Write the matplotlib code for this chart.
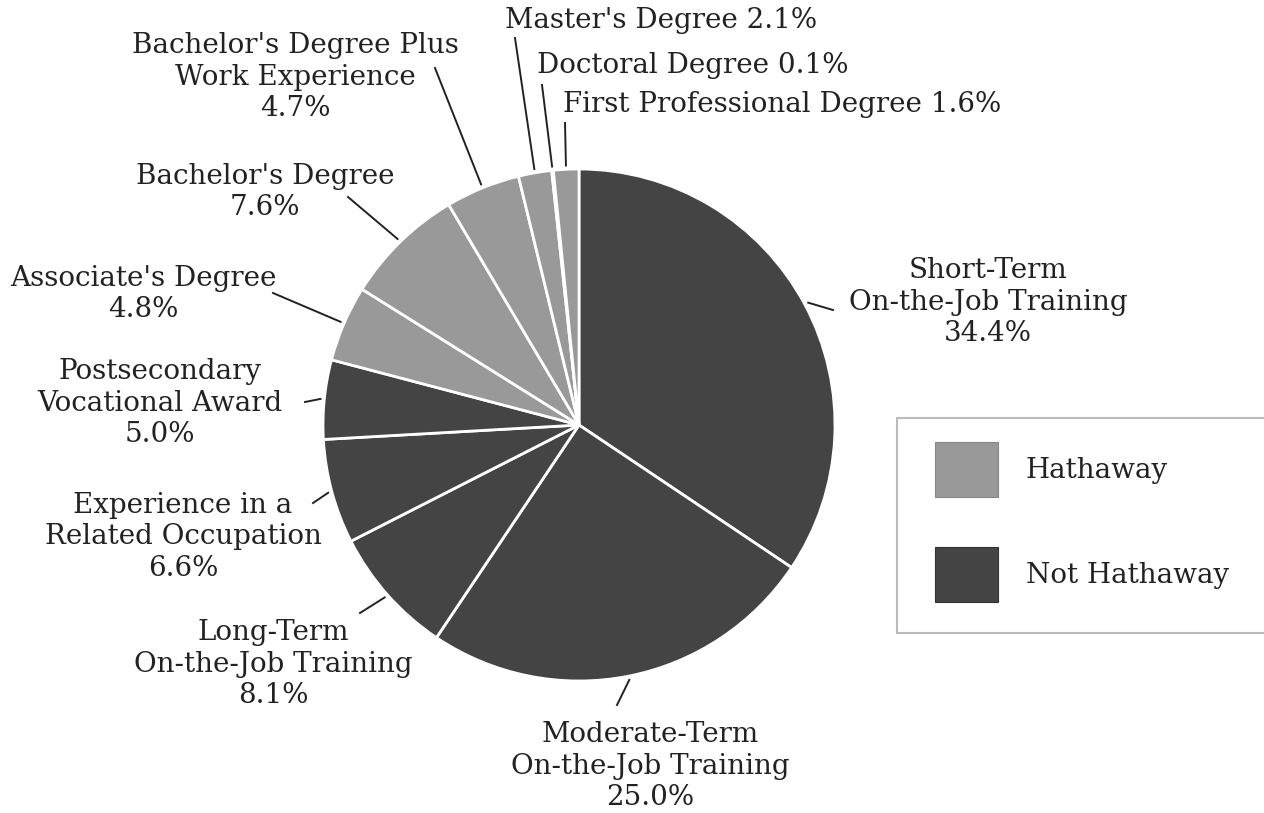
import numpy as np
import matplotlib.pyplot as plt

# education / training categories, clockwise from 12 o'clock
labels = ["Short-Term\nOn-the-Job Training", "Moderate-Term\nOn-the-Job Training",
          "Long-Term\nOn-the-Job Training", "Experience in a\nRelated Occupation",
          "Postsecondary\nVocational Award", "Associate's Degree",
          "Bachelor's Degree", "Bachelor's Degree Plus\nWork Experience",
          "Master's Degree", "Doctoral Degree", "First Professional Degree"]
shares = [34.4, 25.0, 8.1, 6.6, 5.0, 4.8, 7.6, 4.7, 2.1, 0.1, 1.6]
hathaway = [False, False, False, False, False, True, True, True, True, True, True]
legend_labels = ["Hathaway", "Not Hathaway"]

LIGHT = "#999999"
DARK = "#444444"
INK = "#222222"
W, H = 1264, 813

def img(x, y):
    # image pixel coords -> axes data coords
    return x, H - y

# label layout (image pixels): text anchor, horizontal align, leader end
text_pos = [(988, 302), (650, 766), (273, 664), (183, 537), (160, 403),
            (143, 294), (265, 192), (295, 77), (505, 20), (537, 65), (563, 104)]
text_ha = ["center"] * 8 + ["left"] * 3
line_end = [(833, 310), (617, 705), (360, 613), (313, 503), (305, 402),
            (273, 293), (348, 197), (435, 68), (515, 38), (542, 85), (565, 123)]

fig = plt.figure(figsize=(12.64, 8.13), dpi=100)
ax = fig.add_axes([0, 0, 1, 1])

cx, cy = img(579, 425)
R = 256
colors = [LIGHT if h else DARK for h in hathaway]
wedges, _ = ax.pie(shares, colors=colors, startangle=90, counterclock=False,
                   center=(cx, cy), radius=R,
                   wedgeprops=dict(edgecolor="white", linewidth=2))
ax.set_xlim(0, W)
ax.set_ylim(0, H)
ax.set_aspect("equal")
ax.axis("off")

font = dict(family="DejaVu Serif", fontsize=20, color=INK)
for i, w in enumerate(wedges):
    ang = np.deg2rad((w.theta1 + w.theta2) / 2)
    x0 = cx + 1.015 * R * np.cos(ang)
    y0 = cy + 1.015 * R * np.sin(ang)
    ex, ey = img(*line_end[i])
    ax.plot([x0, ex], [y0, ey], color=INK, lw=1.4)
    tx, ty = img(*text_pos[i])
    if i < 8:
        txt = f"{labels[i]}\n{shares[i]:.1f}%"
    else:
        txt = f"{labels[i]} {shares[i]:.1f}%"
    ax.text(tx, ty, txt, ha=text_ha[i], va="center", multialignment="center",
            linespacing=1.22, **font)

# legend frame drawn separately so the padding matches
ax.add_patch(plt.Rectangle(img(897, 633), 380, 215, facecolor="white",
                           edgecolor="#bbbbbb", lw=1.5, clip_on=False))
handles = [plt.Rectangle((0, 0), 1, 1, facecolor=LIGHT, edgecolor="#888888", lw=0.8),
           plt.Rectangle((0, 0), 1, 1, facecolor=DARK, edgecolor="#333333", lw=0.8)]
leg = ax.legend(handles, legend_labels, loc="upper left",
                bbox_to_anchor=(935 / W, 1 - 442 / H), bbox_transform=fig.transFigure,
                prop=dict(family="DejaVu Serif", size=20), frameon=False,
                handlelength=2.27, handleheight=2.67, labelspacing=1.8,
                handletextpad=1.0, borderpad=0, borderaxespad=0)
for t in leg.get_texts():
    t.set_color(INK)

fig.savefig("out.png", dpi=100)
